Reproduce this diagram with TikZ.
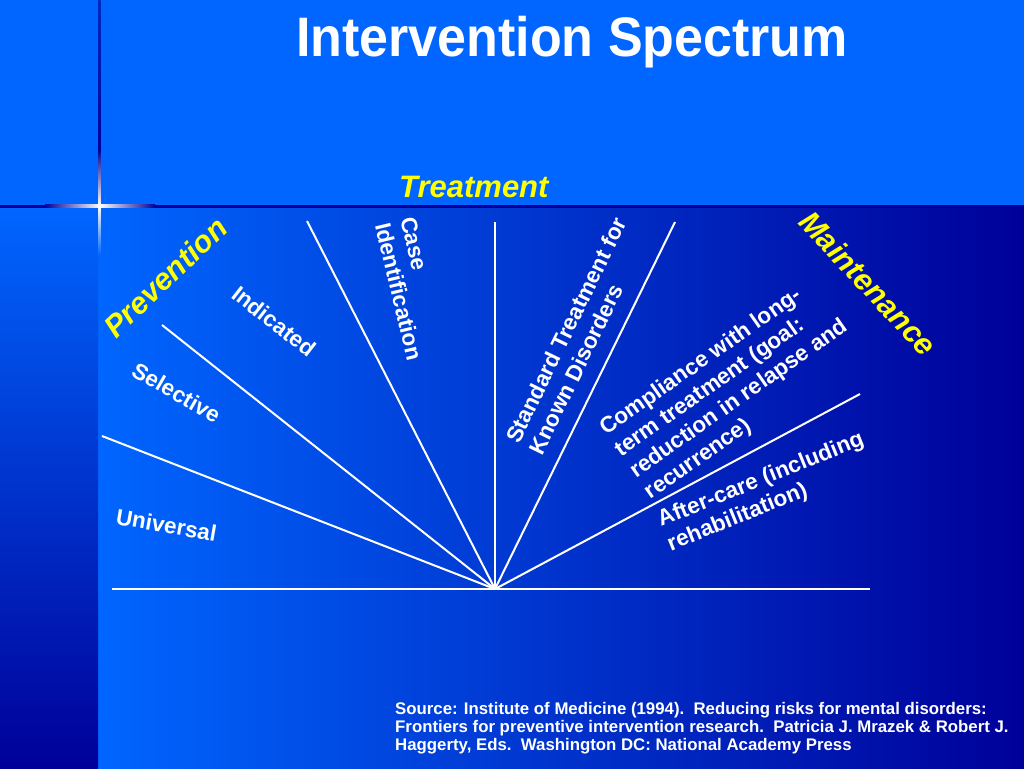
\documentclass[tikz,border=0pt]{standalone}
\usepackage{fontspec}
\setmainfont{Liberation Sans}
\definecolor{topblue}{RGB}{0,102,255}
\definecolor{navy}{RGB}{0,0,153}
\definecolor{yel}{RGB}{255,255,0}
\newcommand{\stk}[1]{\begin{tabular}[t]{@{}l@{}}#1\end{tabular}}
\begin{document}
\begin{tikzpicture}[x=1pt,y=-1pt,
  lbl/.style={text=white, font=\fontsize{22.5}{26}\selectfont\bfseries, inner sep=0pt, anchor=base west},
  head/.style={text=yel, font=\fontsize{30.5}{36}\selectfont\bfseries\itshape, inner sep=0pt, anchor=base west},
  ray/.style={draw=white, line width=2pt}]
\useasboundingbox (0,0) rectangle (1024,768);
% background
\fill[topblue] (0,0) rectangle (1024,768);
\shade[left color=topblue, right color=navy] (98,207) rectangle (1024,768);
\shade[top color=topblue, bottom color=navy] (0,207) rectangle (98,768);
% decorative cross
\fill[navy] (0,204.5) rectangle (1024,207.5);
\shade[left color=navy, right color=navy, middle color=white] (45,204.5) rectangle (155,207.5);
\shade[top color=navy!60!topblue, bottom color=navy] (98,0) rectangle (100.5,150);
\shade[top color=navy, bottom color=white] (98,150) rectangle (100.5,206);
\shade[top color=white, bottom color=topblue] (98,206) rectangle (100.5,255);
% fan
\coordinate (O) at (495,589);
\coordinate (L) at (112,589);
\coordinate (R) at (870,589);
\coordinate (A1) at (102,436);
\coordinate (A2) at (162,325);
\coordinate (A3) at (307,221);
\coordinate (A4) at (495,222);
\coordinate (A5) at (675,222);
\coordinate (A6) at (860,394);
\draw[ray] (L) -- (R);
\foreach \p in {A1,A2,A3,A4,A5,A6} \draw[ray] (O) -- (\p);
% labels
\node[lbl, rotate=-10] (univ) at (115,524) {Universal};
\node[lbl, rotate=-30] (sel) at (130,375) {Selective};
\node[lbl, rotate=-38] (ind) at (230,297) {Indicated};
\node[lbl, rotate=-76.5] (case) at (400,219) {\stk{Case\\Identification}};
\node[lbl, rotate=64] (std) at (519,445) {\stk{Standard Treatment for\\Known Disorders}};
\node[lbl, rotate=35] (comp) at (606,436) {\stk{Compliance with long-\\term treatment (goal:\\reduction in relapse and\\recurrence)}};
\node[lbl, rotate=22] (after) at (661,527) {\stk{After-care (including\\rehabilitation)}};
\node[head, rotate=44] (prev) at (116,340) {Prevention};
\node[head, rotate=-47] (maint) at (797,223) {Maintenance};
\node[head, font=\fontsize{31}{36}\selectfont\bfseries\itshape] (treat) at (399,197) {Treatment};
\node[text=white, font=\fontsize{52}{60}\selectfont\bfseries, inner sep=0pt, anchor=base, yscale=1.07] (title) at (572,56) {Intervention Spectrum};
\node[text=white, font=\fontsize{16.8}{18}\selectfont\bfseries, inner sep=0pt, anchor=base west] (src) at (395,714)
  {\stk{Source: Institute of Medicine (1994).\ \ Reducing risks for mental disorders:\\Frontiers for preventive intervention research.\ \ Patricia J. Mrazek \& Robert J.\\Haggerty, Eds.\ \ Washington DC: National Academy Press}};
\end{tikzpicture}
\end{document}
